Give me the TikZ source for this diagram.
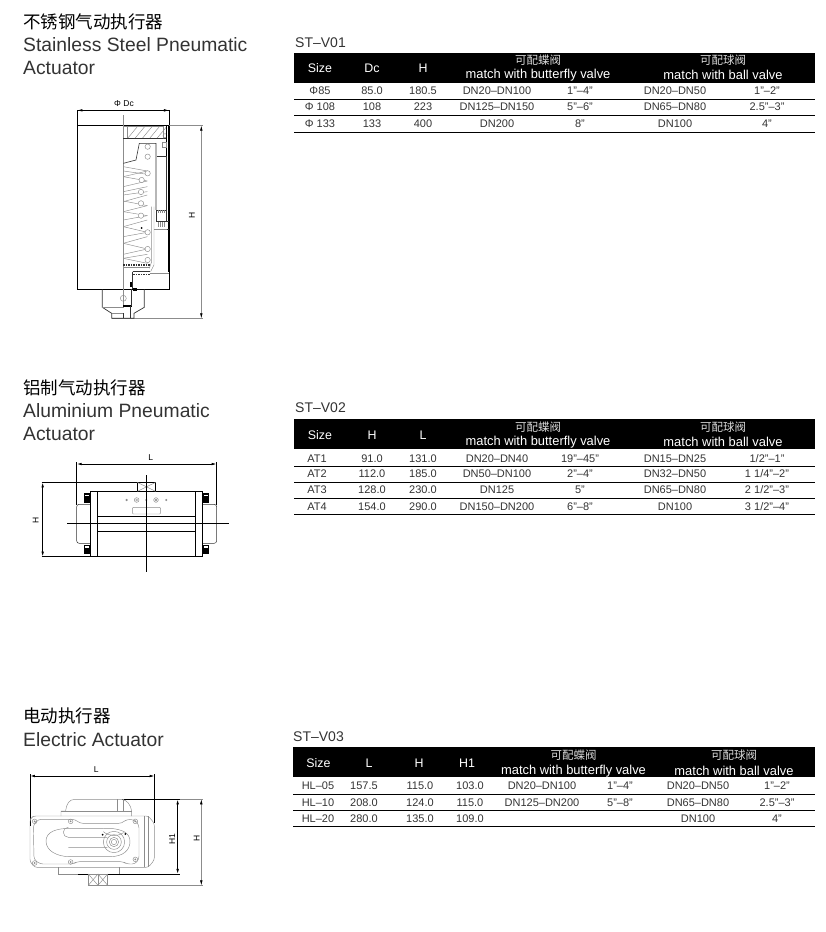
\documentclass[tikz,border=0pt]{standalone}
\usepackage{fontspec}
\setmainfont{Liberation Sans}
\newfontfamily\cjk{Noto Sans CJK SC}
\usetikzlibrary{arrows.meta}
\definecolor{ink}{gray}{0.2}
\definecolor{draft}{gray}{0.55}
\tikzset{
 title/.style={anchor=west,inner sep=0pt,text=ink,font=\fontsize{19.3}{21}\selectfont},
 cntitle/.style={anchor=west,inner sep=0pt,text=black,font=\cjk\fontsize{17.5}{20}\selectfont},
 code/.style={anchor=west,inner sep=0pt,text=ink,font=\fontsize{14}{15}\selectfont},
 cell/.style={inner sep=0pt,text=ink,font=\fontsize{11}{12}\selectfont},
 headcell/.style={inner sep=0pt,text=white,font=\fontsize{12.4}{14}\selectfont},
 headen/.style={inner sep=0pt,text=white,font=\fontsize{12.9}{14}\selectfont},
 headcn/.style={inner sep=0pt,text=white!85!black,font=\cjk\fontsize{11.5}{14}\selectfont},
 rowline/.style={line width=0.9pt,black},
 dimlabel/.style={inner sep=0pt,text=black,font=\fontsize{8.5}{9}\selectfont},
 ink line/.style={line width=0.8pt,black},
 thin draft/.style={line width=0.45pt,draft},
 dimink/.style={line width=0.8pt,black,{Latex[length=5pt,width=2.6pt]}-{Latex[length=5pt,width=2.6pt]}},
 dimdraft/.style={line width=0.5pt,draft,{Latex[length=5pt,width=2.6pt,black]}-{Latex[length=5pt,width=2.6pt,black]}},
}
\begin{document}
\begin{tikzpicture}[x=1pt,y=-1pt]
\useasboundingbox (0,0) rectangle (825,932);
% ---------- left titles
\node[cntitle] (cn1) at (23,22) {不锈钢气动执行器};
\node[title] (en1a) at (23,45) {Stainless Steel Pneumatic};
\node[title] (en1b) at (23,68) {Actuator};
\node[cntitle] (cn2) at (23,388) {铝制气动执行器};
\node[title] (en2a) at (23,411) {Aluminium Pneumatic};
\node[title] (en2b) at (23,434) {Actuator};
\node[cntitle] (cn3) at (23,716) {电动执行器};
\node[title] (en3a) at (23,740) {Electric Actuator};
% ---------- table 1
\node[code] (code1) at (295,42.5) {ST–V01};
\fill[black] (294,52.5) rectangle (815,82.7);
\foreach \x/\t [count=\c] in {320/Size,372/Dc,423/H}
  \node[headcell] (ah\c) at (\x,68) {\t};
\node[headcn] (acn1) at (538,60.5) {可配蝶阀};
\node[headen] (aen1) at (538,75) {match with butterfly valve};
\node[headcn] (acn2) at (723,60.5) {可配球阀};
\node[headen] (aen2) at (723,75) {match with ball valve};
\foreach \y/\ly/\r [count=\n] in {
  91/99/{{Φ85},{85.0},{180.5},{DN20–DN100},{1"–4"},{DN20–DN50},{1"–2"}},
  107/115.7/{{Φ 108},{108},{223},{DN125–DN150},{5"–6"},{DN65–DN80},{2.5"–3"}},
  124/132.3/{{Φ 133},{133},{400},{DN200},{8"},{DN100},{4"}}}{
  \foreach \t [count=\c] in \r {
    \pgfmathsetmacro\xx{{320,372,423,497,580,675,767}[\c-1]}
    \node[cell] (a\n c\c) at (\xx,\y) {\t};
  }
  \draw[rowline] (294,\ly) -- (815,\ly);
}
% ---------- table 2
\node[code] (code2) at (295,408) {ST–V02};
\fill[black] (294,419) rectangle (815,449.3);
\foreach \x/\t [count=\c] in {320/Size,372/H,423/L}
  \node[headcell] (bh\c) at (\x,435) {\t};
\node[headcn] (bcn1) at (538,427) {可配蝶阀};
\node[headen] (ben1) at (538,442) {match with butterfly valve};
\node[headcn] (bcn2) at (723,427) {可配球阀};
\node[headen] (ben2) at (723,442) {match with ball valve};
\foreach \y/\ly/\r [count=\n] in {
  458.3/466/{{AT1},{91.0},{131.0},{DN20–DN40},{19"–45"},{DN15–DN25},{1/2"–1"}},
  474/482.3/{{AT2},{112.0},{185.0},{DN50–DN100},{2"–4"},{DN32–DN50},{1 1/4"–2"}},
  490/498.3/{{AT3},{128.0},{230.0},{DN125},{5"},{DN65–DN80},{2 1/2"–3"}},
  506.7/514.3/{{AT4},{154.0},{290.0},{DN150–DN200},{6"–8"},{DN100},{3 1/2"–4"}}}{
  \foreach \t [count=\c] in \r {
    \pgfmathsetmacro\xx{{317,372,423,497,580,675,767}[\c-1]}
    \node[cell] (b\n c\c) at (\xx,\y) {\t};
  }
  \draw[rowline] (294,\ly) -- (815,\ly);
}
% ---------- table 3
\node[code] (code3) at (293,736.5) {ST–V03};
\fill[black] (293,747) rectangle (815,777.3);
\foreach \x/\t [count=\c] in {318.5/Size,369/L,419/H,467/H1}
  \node[headcell] (ch\c) at (\x,763) {\t};
\node[headcn] (ccn1) at (573.5,755.5) {可配蝶阀};
\node[headen] (cen1) at (573.5,771) {match with butterfly valve};
\node[headcn] (ccn2) at (734,755.5) {可配球阀};
\node[headen] (cen2) at (734,771) {match with ball valve};
\foreach \y/\ly/\r [count=\n] in {
  786/794/{{HL–05},{157.5},{115.0},{103.0},{DN20–DN100},{1"–4"},{DN20–DN50},{1"–2"}},
  802.3/810.7/{{HL–10},{208.0},{124.0},{115.0},{DN125–DN200},{5"–8"},{DN65–DN80},{2.5"–3"}},
  818.3/826.7/{{HL–20},{280.0},{135.0},{109.0},{},{},{DN100},{4"}}}{
  \foreach \t [count=\c] in \r {
    \pgfmathsetmacro\xx{{318,364,420,470,542,620,698,777}[\c-1]}
    \node[cell] (c\n c\c) at (\xx,\y) {\t};
  }
  \draw[rowline] (293,\ly) -- (815,\ly);
}
% ---------- drawing 1 (units: thirds of a pixel)
\begin{scope}[shift={(60,95)},x=0.3333pt,y=-0.3333pt]
 \node[dimlabel] (d1dc) at (192,25) {Φ Dc};
 \node[dimlabel,rotate=90] (d1h) at (396,362) {H};
 \draw[ink line] (52,46) rectangle (327,583);
 \draw[ink line] (52,92) -- (327,92);
 \coordinate (d1l) at (52,46); \coordinate (d1r) at (327,46);
 \draw[dimink] (d1l) -- (d1r);
 \draw[thin draft] (190,60) -- (190,640);
 \coordinate (d1t) at (424,92); \coordinate (d1b) at (424,670);
 \draw[dimdraft] (d1t) -- (d1b);
 \draw[thin draft] (327,92) -- (430,92) (155,670) -- (430,670);
 % piston head
 \draw[thin draft] (190,95) rectangle (203,130) (203,95) rectangle (310,130);
 \foreach \i in {0,22,...,88}
   \draw[thin draft] (203+\i,130) -- (232+\i,95);
 \draw[line width=0.7pt,ink] (190,130) -- (318,130);
 \draw[thin draft] (310,95) -- (310,130) (315,122) circle[radius=6];
 \draw[line width=1.1pt,black] (320,92) -- (320,345);
 \draw[line width=1.2pt,black] (327,92) -- (327,530);
 % spring housing
 \draw[line width=0.6pt,ink] (190,205) -- (228,195) -- (238,145) -- (288,145) -- (288,345);
 \draw[line width=0.6pt,ink] (290,185) -- (318,185) -- (318,345);
 \draw[thin draft] (306,142) rectangle (318,158);
 \draw[ink,line width=0.6pt] (290,345) rectangle (320,378);
 \foreach \i in {296,302,...,314}{
  \draw[thin draft] (\i,345) -- (\i,355) (\i,380) -- (\i,395);
 }
 \draw[ink,line width=0.6pt] (294,378) -- (327,378) (297,402) -- (327,402);
 % spring
 \foreach \a/\b in {215/228,228/238,245/228,245/258,275/258,290/275,300/290,320/300,318/332,350/332,350/362,375/362,395/375,395/412,425/412,445/425,445/462,478/462,490/478,490/505}
   \draw[thin draft] (190,\a) -- (262,\b);
 \foreach \cx/\cy in {263/155,263/185,263/235,245/255,243/291,243/325,243/362,263/412,263/462,263/495}
   \draw[thin draft,fill=white] (\cx,\cy) circle[radius=8];
 \fill[black] (245,399) circle[radius=3];
 % lower piston
 \draw[thin draft] (275,335) -- (275,500) -- (268,520) (282,335) -- (282,510) -- (272,530);
 \draw[thin draft] (282,402) -- (320,402);
 \draw[line width=1.5pt,ink,dash pattern=on 1.5pt off 1pt] (190,510) -- (272,510);
 \draw[line width=1.5pt,ink,dash pattern=on 1.5pt off 1pt] (220,539) -- (270,539);
 \draw[thin draft] (190,516) -- (270,516) (270,534) -- (327,534);
 \draw[line width=0.7pt,ink] (218,530) -- (270,530) (218,530) -- (218,583);
 \fill[black] (211,562) rectangle (217,575);
 \fill[black] (218,579) rectangle (231,589);
 % stem
 \draw[line width=0.7pt,ink] (127,583) -- (127,637) -- (155,655) -- (155,670) -- (222,670) -- (222,655) -- (253,637) -- (253,583);
 \draw[thin draft] (190,610) circle[radius=9];
 \draw[thin draft] (155,655) -- (190,655);
 \draw[line width=1.3pt,black] (190,633) -- (215,633);
 \draw[line width=0.9pt,ink] (215,583) -- (215,633) (212,633) -- (212,670) (190,655) -- (190,670);
 \draw[thin draft] (127,637) -- (190,637);
\end{scope}
% ---------- drawing 2
\begin{scope}[shift={(20,450)},x=0.3333pt,y=-0.3333pt]
 \node[dimlabel] (d2l) at (392,22) {L};
 \node[dimlabel,rotate=90] (d2h) at (47,212) {H};
 \coordinate (d2a) at (170,42); \coordinate (d2b) at (590,42);
 \draw[dimink] (d2a) -- (d2b);
 \draw[ink line] (170,36) -- (170,165) (590,36) -- (590,165);
 \coordinate (d2c) at (68,97); \coordinate (d2d) at (68,320);
 \draw[dimink] (d2c) -- (d2d);
 \draw[ink line] (65,97) -- (352,97) (65,320) -- (212,320);
 % end caps
 \draw[line width=0.5pt,ink,rounded corners=2.5pt] (212,163) -- (170,163) -- (170,280) -- (212,280);
 \draw[line width=0.5pt,ink,rounded corners=2.5pt] (548,163) -- (590,163) -- (590,280) -- (548,280);
 \foreach \yy in {130,285}{
  \fill[black] (192,\yy) rectangle (212,\yy+28);
  \fill[black] (548,\yy) rectangle (568,\yy+28);
  \fill[white] (196,\yy+4) rectangle (208,\yy+8);
  \fill[white] (552,\yy+4) rectangle (564,\yy+8);
 }
 % body
 \draw[ink line,fill=white] (212,124) rectangle (548,320);
 \draw[ink line] (232,124) -- (232,320) (527,124) -- (527,320) (232,198) -- (527,198) (232,243) -- (527,243);
 \draw[ink line] (352,97) rectangle (407,124);
 \draw[thin draft] (352,97) -- (407,124) (352,124) -- (407,97);
 % details
 \foreach \xx in {350,408}{
  \draw[thin draft] (\xx,150) circle[radius=7];
  \draw[thin draft] (\xx,150) circle[radius=3];
 }
 \foreach \xx in {320,379,439} \fill[draft] (\xx,150) circle[radius=3.5];
 \draw[thin draft,rounded corners=1pt] (337,172) rectangle (422,192);
 % centre lines
 \draw[ink line] (379,75) -- (379,365);
 \draw[ink line] (142,220) -- (627,220);
\end{scope}
% ---------- drawing 3
\begin{scope}[shift={(20,760)},x=0.3333pt,y=-0.3333pt]
 \node[dimlabel] (d3l) at (229,30) {L};
 \node[dimlabel,rotate=90] (d3h1) at (457,238) {H1};
 \node[dimlabel,rotate=90] (d3h) at (530,235) {H};
 \coordinate (d3a) at (30,48); \coordinate (d3b) at (404,48);
 \draw[dimink] (d3a) -- (d3b);
 \draw[ink line] (30,42) -- (30,198) (404,42) -- (404,190);
 \coordinate (d3c) at (473,118); \coordinate (d3d) at (473,342);
 \draw[dimink] (d3c) -- (d3d);
 \coordinate (d3e) at (544,118); \coordinate (d3f) at (544,376);
 \draw[dimdraft] (d3e) -- (d3f);
 \draw[ink line] (305,118) -- (479,118) (175,342) -- (479,342);
 \draw[thin draft] (479,118) -- (550,118) (205,376) -- (550,376);
 % motor cover
 \draw[thin draft] (123,168) -- (123,153) -- (137,153) .. controls (140,130) and (148,118) .. (165,118) -- (305,118) .. controls (322,120) and (332,135) .. (335,153) -- (335,168);
 \draw[thin draft] (123,153) -- (335,153) (292,118) -- (292,153) (310,118) -- (310,153);
 % body plate
 \draw[thin draft,rounded corners=2.5pt] (30,198) -- (30,178) -- (40,168) -- (310,168) -- (385,168) -- (403,190) -- (403,300) -- (385,322) -- (310,322) -- (44,322) -- (30,305) -- (30,198);
 \draw[thin draft,rounded corners=3pt] (40,195) -- (55,178) -- (165,178) -- (180,190) -- (305,190) -- (320,178) -- (345,180) -- (357,195) -- (357,298) -- (345,312) -- (320,312) -- (310,305) -- (170,305) -- (160,312) -- (60,312) -- (42,298) -- cycle;
 \draw[thin draft] (372,168) -- (372,322) (385,168) -- (385,322);
 \draw[thin draft] (78,243) .. controls (78,215) and (110,205) .. (150,205) -- (250,205) (150,290) .. controls (110,290) and (78,272) .. (78,243);
 \draw[thin draft] (150,290) -- (270,290) .. controls (310,290) and (330,270) .. (330,245) .. controls (330,220) and (310,208) .. (270,205) -- (250,205);
 \draw[thin draft] (145,232) -- (262,232) (145,262) -- (262,262) (145,232) arc[start angle=90,end angle=270,radius=15];
 \foreach \r in {8,14,22,32} \draw[thin draft] (282,246) circle[radius=\r];
 \draw[thin draft] (250,215) arc[start angle=130,end angle=55,radius=50];
 \fill[black] (248,224) circle[radius=3] (316,222) circle[radius=3];
 \foreach \xx/\yy in {44/184,152/184,346/184,44/309,152/306,346/298}{
  \draw[thin draft] (\xx,\yy) circle[radius=7];
  \fill[draft] (\xx,\yy) circle[radius=3];
 }
 % bottom
 \draw[thin draft] (115,322) -- (115,342) -- (175,342) (297,322) -- (297,342);
 \draw[thin draft] (205,342) rectangle (263,376) (234,342) -- (234,376);
 \draw[thin draft] (205,342) -- (234,376) (205,376) -- (234,342) (234,342) -- (263,376) (234,376) -- (263,342);
\end{scope}
\end{tikzpicture}
\end{document}
